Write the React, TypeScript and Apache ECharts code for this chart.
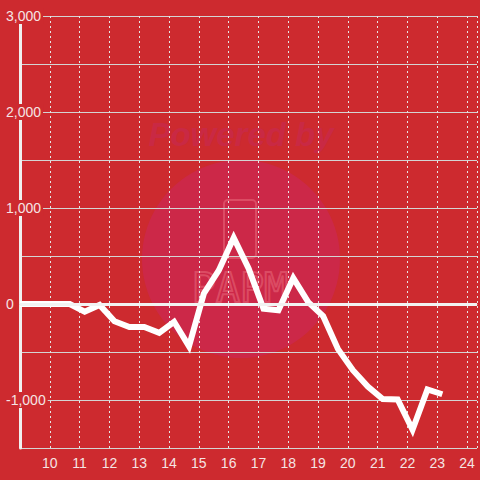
import React, { useEffect, useRef } from "react";
import * as echarts from "echarts";

const xValues = [9, 10.67, 11.17, 11.67, 12.17, 12.67, 13.17, 13.67, 14.17, 14.67, 15.17, 15.67, 16.17, 16.67, 17.17, 17.67, 18.17, 18.67, 19.17, 19.67, 20.17, 20.67, 21.17, 21.67, 22.17, 22.67, 23.17];
const yValues = [0, 0, -80, -10, -180, -240, -240, -300, -185, -440, 110, 350, 690, 370, -50, -65, 270, 20, -125, -470, -690, -860, -990, -995, -1310, -890, -940];

const Y_MIN = -1500;
const Y_MAX = 3000;
const Y_STEP = 500;
const X_MIN = 9;
const X_MAX = 24.333;
const X_STEP = 1;

const BG = "#cd2a2f";

export default function App() {
  const ref = useRef<HTMLDivElement>(null);
  useEffect(() => {
    if (!ref.current) return;
    const chart = echarts.init(ref.current, null, { renderer: "svg" });
    const data = xValues.map((x, i) => [x, yValues[i]]);
    chart.setOption({
      animation: false,
      backgroundColor: BG,
      grid: { left: 20, top: 16, right: 0, bottom: 32 },
      graphic: [
        {
          type: "circle",
          z: -1,
          silent: true,
          shape: { cx: 241, cy: 259, r: 99 },
          style: { fill: "#cc2848" },
        },
        {
          type: "text",
          z: -1,
          silent: true,
          x: 241,
          y: 134,
          style: {
            text: "Powered by",
            fill: "#c92944",
            font: "italic bold 33px 'Liberation Sans', Arial, sans-serif",
            textAlign: "center",
            textVerticalAlign: "middle",
          },
        },
        {
          type: "rect",
          z: -1,
          silent: true,
          shape: { x: 224, y: 200, width: 32, height: 58, r: 4 },
          style: { fill: "none", stroke: "rgba(240,120,135,0.45)", lineWidth: 2 },
        },
        {
          type: "text",
          z: -1,
          silent: true,
          x: 240,
          y: 288,
          style: {
            text: "PAPM",
            fill: "none",
            stroke: "rgba(240,120,135,0.45)",
            lineWidth: 2,
            font: "40px 'DejaVu Sans Mono', monospace",
            textAlign: "center",
            textVerticalAlign: "middle",
          },
        },
      ],
      xAxis: {
        type: "value",
        min: X_MIN,
        max: X_MAX,
        interval: X_STEP,
        axisLine: { show: true, lineStyle: { color: "#cfcfcf", width: 1 } },
        axisTick: { show: false },
        axisLabel: {
          color: "#f5e4e4",
          fontSize: 14,
          fontFamily: "'Liberation Sans', Arial, sans-serif",
          margin: 8,
          formatter: (v: number) => (Number.isInteger(v) && v !== X_MIN ? String(v) : ""),
        },
        splitLine: { show: true, lineStyle: { color: "#e6e6e6", type: [2, 3], width: 1 } },
      },
      yAxis: {
        type: "value",
        min: Y_MIN,
        max: Y_MAX,
        interval: Y_STEP,
        axisLine: { show: true, lineStyle: { color: "#f0f0f0", width: 3 } },
        axisTick: { show: false },
        axisLabel: {
          align: "left",
          margin: 15,
          formatter: (v: number) =>
            v % 1000 === 0 ? "{a|" + v.toLocaleString("en-US") + "}" : "",
          rich: {
            a: {
              color: "#f5e4e4",
              fontSize: 14,
              fontFamily: "'Liberation Sans', Arial, sans-serif",
              backgroundColor: BG,
              padding: [1, 2, 1, 1],
            },
          },
        },
        splitLine: { show: true, lineStyle: { color: "#d4d4d4", width: 1 } },
      },
      series: [
        {
          type: "line",
          data,
          showSymbol: false,
          symbol: "none",
          lineStyle: { color: "#ffffff", width: 6, join: "miter" },
          markLine: {
            silent: true,
            symbol: "none",
            label: { show: false },
            lineStyle: { color: "#f2f2f2", width: 3, type: "solid" },
            data: [{ yAxis: 0 }],
          },
          z: 3,
        },
      ],
    });
    return () => chart.dispose();
  }, []);
  return <div ref={ref} style={{ width: 480, height: 480, position: "absolute", left: 0, top: 0 }} />;
}
